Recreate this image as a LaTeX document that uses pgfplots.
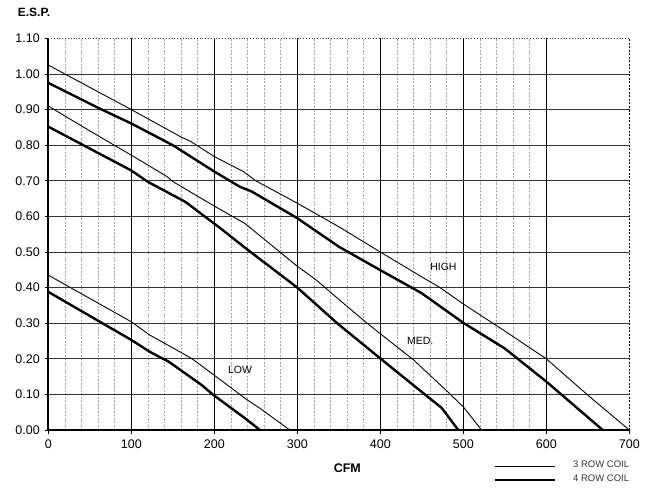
\documentclass[border=0pt]{standalone}
\usepackage{pgfplots}
\pgfplotsset{compat=1.18}
\usepackage{pgfplotstable}
\usepackage{fontspec}
\setmainfont{Liberation Sans}

% fan curves, CFM vs E.S.P.
\pgfplotstableread{
x y
0 1.025
100 0.900
160 0.823
172 0.810
200 0.768
235 0.726
250 0.700
300 0.637
350 0.571
400 0.500
450 0.430
472 0.400
500 0.354
550 0.278
600 0.200
650 0.098
700 0.000
}\highthree
\pgfplotstableread{
x y
0 0.975
60 0.905
100 0.861
150 0.800
200 0.726
231 0.683
245 0.670
300 0.595
350 0.515
400 0.449
450 0.384
500 0.301
550 0.229
600 0.136
640 0.056
668 0.000
}\highfour
\pgfplotstableread{
x y
0 0.910
48 0.843
100 0.772
143 0.712
150 0.698
200 0.629
237 0.580
300 0.460
323 0.421
351 0.365
384 0.300
440 0.197
480 0.110
500 0.065
522 0.000
}\medthree
\pgfplotstableread{
x y
0 0.852
100 0.729
120 0.697
165 0.641
205 0.571
237 0.512
300 0.400
348 0.300
400 0.201
452 0.103
474 0.062
494 0.000
}\medfour
\pgfplotstableread{
x y
0 0.435
100 0.304
122 0.267
169 0.206
175 0.197
201 0.152
237 0.089
255 0.061
291 0.000
}\lowthree
\pgfplotstableread{
x y
0 0.388
100 0.253
122 0.220
145 0.192
185 0.126
198 0.100
237 0.033
255 0.000
}\lowfour

\begin{document}
\begin{tikzpicture}
\path[use as bounding box] (-48.3pt,-58pt) rectangle (611.7pt,430pt);
\begin{axis}[
    scale only axis,
    width=581pt, height=391.6pt,
    at={(0,0)}, anchor=south west,
    xmin=0, xmax=700, ymin=0, ymax=1.1,
    axis x line*=bottom, axis y line*=left,
    x axis line style={-, line width=1.1pt},
    y axis line style={-, line width=1.8pt},
    xtick={0,100,200,300,400,500,600},
    extra x ticks={700},
    ytick={0,0.1,0.2,0.3,0.4,0.5,0.6,0.7,0.8,0.9,1.0},
    extra y ticks={1.1},
    minor x tick num=4,
    minor tick length=0pt,
    major tick length=3.5pt,
    tick align=outside,
    tick style={black, line width=0.8pt},
    grid=both,
    major x grid style={black, line width=0.8pt},
    major y grid style={black!80, line width=0.9pt},
    minor x grid style={gray!70, line width=0.7pt, dash pattern=on 2pt off 1.5pt},
    extra x tick style={grid style={gray!70, line width=0.7pt, dash pattern=on 2pt off 1.5pt}},
    extra y tick style={grid style={gray!70, line width=0.8pt, dotted}},
    /pgf/number format/assume math mode=true,
    tick label style={font=\fontsize{12.5}{14}\selectfont},
    y tick label style={/pgf/number format/.cd, fixed, fixed zerofill, precision=2},
    x tick label style={/pgf/number format/.cd, fixed, precision=0},
    xticklabel shift=3pt,
    yticklabel shift=1.5pt,
  ]
  \addplot[black, line width=0.9pt] table[x=x,y=y] {\highthree};
  \addplot[black, line width=2.4pt] table[x=x,y=y] {\highfour};
  \addplot[black, line width=0.9pt] table[x=x,y=y] {\medthree};
  \addplot[black, line width=2.4pt] table[x=x,y=y] {\medfour};
  \addplot[black, line width=0.9pt] table[x=x,y=y] {\lowthree};
  \addplot[black, line width=2.4pt] table[x=x,y=y] {\lowfour};
  \node[font=\fontsize{10.5}{12}\selectfont] at (axis cs:476,0.458) {HIGH};
  \node[font=\fontsize{10.5}{12}\selectfont] at (axis cs:448,0.250) {MED.};
  \node[font=\fontsize{10.5}{12}\selectfont] at (axis cs:231,0.168) {LOW};
\end{axis}
\node[anchor=west, font=\bfseries\fontsize{12}{14}\selectfont] at (-34pt,418pt) {E.S.P.};
\node[font=\bfseries\fontsize{12.5}{14}\selectfont] at (299pt,-38pt) {CFM};
\draw[black, line width=0.9pt] (446.7pt,-36.7pt) -- (506.7pt,-36.7pt);
\draw[black, line width=2.4pt] (446.7pt,-50pt) -- (506.7pt,-50pt);
\node[anchor=west, inner sep=0pt, text=black!80, font=\fontsize{9.5}{10}\selectfont] at (524.7pt,-34pt) {3 ROW COIL};
\node[anchor=west, inner sep=0pt, text=black!80, font=\fontsize{9.5}{10}\selectfont] at (524.7pt,-48pt) {4 ROW COIL};
\end{tikzpicture}
\end{document}
